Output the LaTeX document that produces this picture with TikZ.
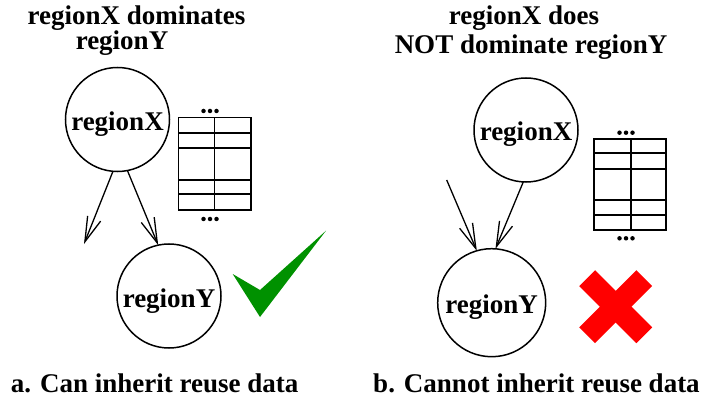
\documentclass[tikz,border=0pt]{standalone}
\usepackage{fontspec}
\setmainfont{Liberation Serif}
\usetikzlibrary{arrows.meta}
\begin{document}
\begin{tikzpicture}[x=1pt,y=-1pt,
  region/.style={circle,draw,line width=1.5pt,minimum size=104pt,inner sep=0pt,outer sep=0pt,text height=22pt,text depth=0pt,font=\fontsize{27}{28}\selectfont\bfseries},
  lbl/.style={font=\fontsize{27}{28}\selectfont\bfseries,inner sep=0pt,anchor=base},
  tbl/.style={line width=1.6pt},
  arr/.style={line width=1.3pt,-{Straight Barb[length=25pt,width=14pt]}},
  tdot/.style={fill=black,circle,inner sep=0pt,minimum size=4.5pt}
]
\useasboundingbox (0,0) rectangle (702,401);
% titles
\node[lbl] (t1a) at (136.5,25) {regionX dominates};
\node[lbl] (t1b) at (122,50) {regionY};
\node[lbl] (t2a) at (524,25) {regionX does};
\node[lbl] (t2b) at (531,54) {NOT dominate regionY};
% captions
\node[lbl] (capa) at (154.7,392) {a. Can inherit reuse data};
\node[lbl] (capb) at (536.5,392) {b. Cannot inherit reuse data};
% left part
\node[region] (lx) at (117.5,119.5) {regionX};
\node[region] (ly) at (169,296) {regionY};
\coordinate (lfree) at (84,244);
\draw[arr] (lx.265) -- (lfree);
\draw[arr] (lx.281) -- (ly.102);
% left table
\draw[tbl] (178.3,117.7) rectangle (250.7,210);
\foreach \yy in {133.3,148.3,180,194.3} \draw[tbl] (178.3,\yy) -- (250.7,\yy);
\draw[tbl] (214.3,117.7) -- (214.3,210);
\foreach \xx in {203.5,210,216.5} {\node[tdot] at (\xx,111) {}; \node[tdot] at (\xx,219) {};}
% check mark
\fill[fill={rgb,255:red,0;green,145;blue,0}] (232.7,274) -- (260,290) -- (326,230.7) -- (260,317) -- cycle;
% right part
\node[region] (rx) at (526,130) {regionX};
\node[region,minimum size=108pt] (ry) at (491.7,302.7) {regionY};
\coordinate (rfree) at (446.7,180);
\draw[arr] (rfree) -- (ry.106);
\draw[arr] (rx.267) -- (ry.86.5);
% right table
\draw[tbl] (594,139.3) rectangle (666,230);
\foreach \yy in {153.3,169.3,200,215} \draw[tbl] (594,\yy) -- (666,\yy);
\draw[tbl] (630.7,139.3) -- (630.7,230);
\foreach \xx in {619.5,626,632.5} {\node[tdot] at (\xx,132.7) {}; \node[tdot] at (\xx,238.3) {};}
% red cross
\fill[red,rotate around={45:(615.7,306.7)}] (575.3,295.5) rectangle (656.1,317.9);
\fill[red,rotate around={-45:(615.7,306.7)}] (575.3,295.5) rectangle (656.1,317.9);
\end{tikzpicture}
\end{document}
